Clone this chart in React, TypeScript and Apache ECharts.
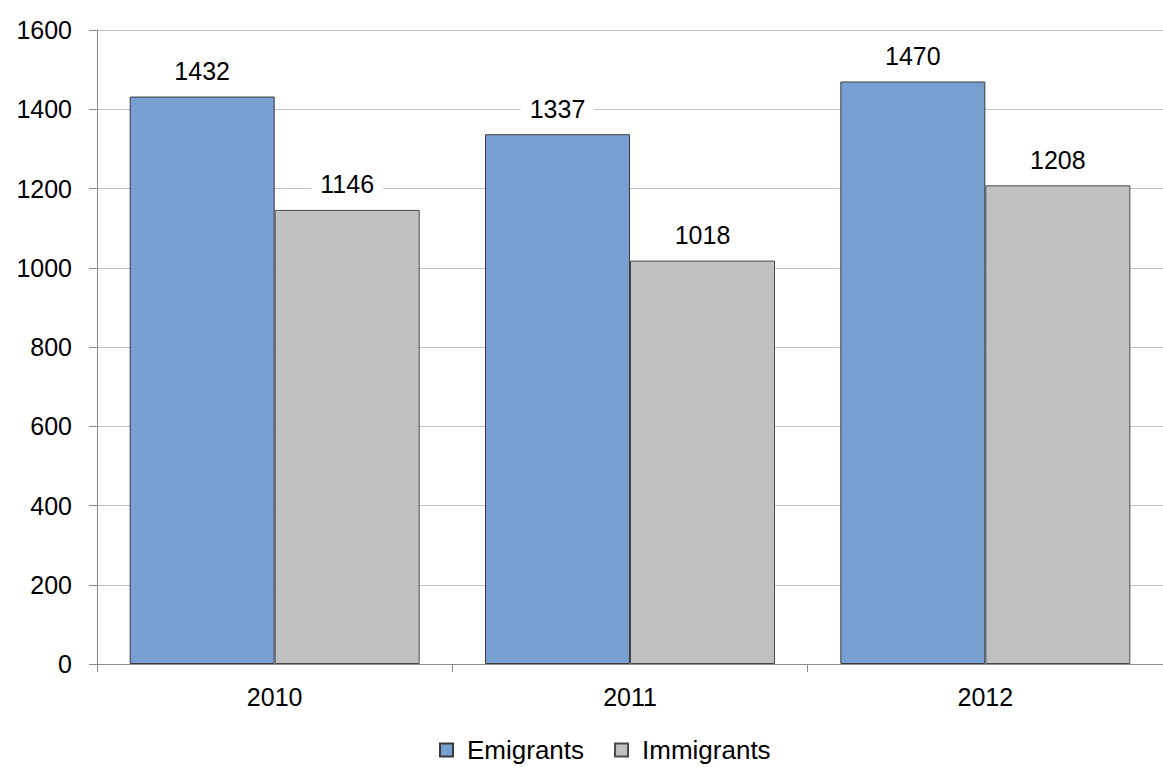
import React, { useEffect, useRef } from "react";
import * as echarts from "echarts";

const categories = ["2010", "2011", "2012"];
const emigrants = [1432, 1337, 1470];
const immigrants = [1146, 1018, 1208];
const seriesNames = ["Emigrants", "Immigrants"];

export default function App() {
  const ref = useRef<HTMLDivElement>(null);
  useEffect(() => {
    const chart = echarts.init(ref.current!, undefined, { renderer: "svg" });
    const font = "Liberation Sans, Arial, sans-serif";
    const fs = 25;
    const label = {
      show: true,
      position: "top",
      distance: 11,
      fontSize: fs,
      fontFamily: font,
      color: "#000",
      backgroundColor: "#fff",
      padding: [2, 9],
    };
    chart.setOption({
      animation: false,
      textStyle: { fontFamily: font },
      grid: { left: 97, top: 30, width: 1068, height: 634, containLabel: false },
      legend: {
        top: 732,
        left: 434,
        itemWidth: 13,
        itemHeight: 13,
        itemGap: 30,
        icon: "rect",
        textStyle: { fontSize: 26, color: "#000", fontFamily: font, padding: [0, 0, 0, 9] },
        data: seriesNames,
      },
      xAxis: {
        type: "category",
        data: categories,
        axisLine: { lineStyle: { color: "#8c8c8c", width: 1 } },
        axisTick: { show: true, length: 8, lineStyle: { color: "#8c8c8c" } },
        axisLabel: { fontSize: fs, color: "#000", margin: 20, fontFamily: font },
      },
      yAxis: {
        type: "value",
        min: 0,
        max: 1600,
        interval: 200,
        axisLine: { show: true, lineStyle: { color: "#8c8c8c", width: 1 } },
        axisTick: { show: true, length: 8, lineStyle: { color: "#8c8c8c" } },
        axisLabel: {
          fontSize: fs,
          color: "#000",
          margin: 25,
          fontFamily: font,
          formatter: (v: number) => String(v),
        },
        splitLine: { lineStyle: { color: "#c4c4c4", width: 1 } },
      },
      series: [
        {
          name: seriesNames[0],
          type: "bar",
          data: emigrants,
          barWidth: 145,
          barGap: "0%",
          itemStyle: { color: "#779fd2", borderColor: "#3a3a3a", borderWidth: 1 },
          label,
        },
        {
          name: seriesNames[1],
          type: "bar",
          data: immigrants,
          barWidth: 145,
          barGap: "0%",
          itemStyle: { color: "#c0c0c0", borderColor: "#4a4a4a", borderWidth: 1 },
          label,
        },
      ],
    });
    return () => chart.dispose();
  }, []);
  return (
    <div
      ref={ref}
      style={{ position: "fixed", left: 0, top: 0, width: 1163, height: 775, background: "#fff" }}
    />
  );
}
